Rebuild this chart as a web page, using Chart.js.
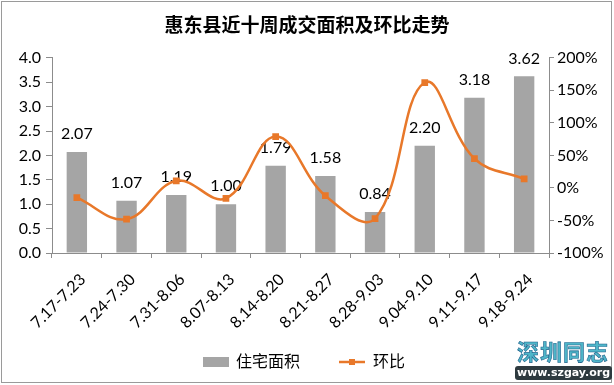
<!DOCTYPE html>
<html>
<head>
<meta charset="utf-8">
<script src="https://cdn.jsdelivr.net/npm/chart.js@4/dist/chart.umd.min.js"></script>
<style>
  html, body { margin: 0; padding: 0; background: #fff; }
  .wrap { position: relative; width: 614px; height: 385px; }
  .mark { position: absolute; left: 515px; top: 338px; width: 96px; text-align: center; }
  .mark .cn { font: bold 22px 'Noto Sans CJK SC', sans-serif; color: #4fb6c9; line-height: 24px;
              -webkit-text-stroke: 0.6px #1d5f8a; letter-spacing: 1px; }
  .mark .en { display: inline-block; font: bold 11px 'DejaVu Sans', sans-serif; color: #fff; background: #2e3a3f;
              line-height: 14px; padding: 0 2px; border-radius: 3px; }
</style>
</head>
<body>
<div class="wrap">
  <canvas class="js-chart" width="614" height="385"></canvas>
  <div class="mark"><div class="cn">深圳同志</div><div class="en">www.szgay.org</div></div>
</div>
<script>
const TITLE = '惠东县近十周成交面积及环比走势';
const weeks = ['7.17-7.23', '7.24-7.30', '7.31-8.06', '8.07-8.13', '8.14-8.20',
               '8.21-8.27', '8.28-9.03', '9.04-9.10', '9.11-9.17', '9.18-9.24'];
const area = [2.07, 1.07, 1.19, 1.00, 1.79, 1.58, 0.84, 2.20, 3.18, 3.62];
const change = [-15, -48, 11, -16, 79, -12, -47, 162, 45, 14];
const leftTicks = [0, 4, 0.5];
const rightTicks = [-100, 200, 50];

const FONT = "Lato, 'Noto Sans CJK SC', sans-serif";
const GRAY = '#a5a5a5';
const ORANGE = '#e8782a';
const AXIS = '#8c8c8c';

const barLabels = {
    id: 'barLabels',
    afterDatasetDraw(chart, args) {
        if (args.index !== 0) return;
        const ctx = chart.ctx;
        ctx.save();
        ctx.font = '16px ' + FONT;
        ctx.fillStyle = '#000';
        ctx.textAlign = 'center';
        ctx.textBaseline = 'bottom';
        args.meta.data.forEach((bar, i) => {
            ctx.fillText(area[i].toFixed(2), bar.x, bar.y - 10);
        });
        ctx.restore();
    }
};

// legend drawn by hand so the spacing matches the excel one
const bottomLegend = {
    id: 'bottomLegend',
    afterDraw(chart) {
        const ctx = chart.ctx;
        const [bars, line] = chart.data.datasets;
        const y = 362;
        let x = chart.width / 2 - 104;
        ctx.save();
        ctx.font = '16px ' + FONT;
        ctx.textBaseline = 'middle';

        ctx.fillStyle = bars.backgroundColor;
        ctx.fillRect(x, y - 5, 26, 10);
        x += 33;
        ctx.fillStyle = '#000';
        ctx.fillText(bars.label, x, y);
        x += ctx.measureText(bars.label).width + 39;

        ctx.strokeStyle = line.borderColor;
        ctx.lineWidth = 2.5;
        ctx.beginPath();
        ctx.moveTo(x, y);
        ctx.lineTo(x + 26, y);
        ctx.stroke();
        ctx.fillStyle = line.borderColor;
        ctx.fillRect(x + 10, y - 3, 6, 6);
        x += 34;
        ctx.fillStyle = '#000';
        ctx.fillText(line.label, x, y);

        // outer frame
        ctx.strokeStyle = '#9a9a9a';
        ctx.lineWidth = 1;
        ctx.strokeRect(1.5, 1.5, 610, 381);
        ctx.restore();
    }
};

new Chart(document.querySelector('.js-chart').getContext('2d'), {
    type: 'bar',
    data: {
        labels: weeks,
        datasets: [{
            label: '住宅面积',
            data: area,
            backgroundColor: GRAY,
            barPercentage: 0.41,
            categoryPercentage: 1,
            yAxisID: 'y',
            order: 2
        },
        {
            type: 'line',
            label: '环比',
            data: change,
            borderColor: ORANGE,
            backgroundColor: ORANGE,
            borderWidth: 2.5,
            tension: 0.4,
            pointStyle: 'rect',
            pointRadius: 3,
            yAxisID: 'y1',
            order: 1
        }]
    },
    options: {
        responsive: false,
        animation: false,
        layout: { padding: { left: 0, right: 0, top: 0, bottom: 42 } },
        plugins: {
            title: {
                display: true,
                text: TITLE,
                color: '#000',
                font: { family: "'Noto Sans CJK SC', sans-serif", size: 19, weight: 'bold' },
                padding: { top: 13, bottom: 22 }
            },
            legend: { display: false },
            tooltip: { enabled: false }
        },
        scales: {
            x: {
                grid: { offset: true, drawOnChartArea: false, color: AXIS, tickLength: 5 },
                border: { color: AXIS },
                ticks: { minRotation: 45, maxRotation: 45, padding: 12, labelOffset: 6,
                         color: '#000', font: { family: FONT, size: 16 } },
                afterFit: s => { s.height = 90; }
            },
            y: {
                position: 'left',
                min: leftTicks[0],
                max: leftTicks[1],
                grid: { drawOnChartArea: false, color: AXIS, tickLength: 6 },
                border: { color: AXIS },
                ticks: { stepSize: leftTicks[2], padding: 5, color: '#000', font: { family: FONT, size: 16 },
                         callback: v => v.toFixed(1) },
                afterFit: s => { s.width = 52; }
            },
            y1: {
                position: 'right',
                min: rightTicks[0],
                max: rightTicks[1],
                grid: { drawOnChartArea: false, color: AXIS, tickLength: 5 },
                border: { color: AXIS },
                ticks: { stepSize: rightTicks[2], color: '#000', font: { family: FONT, size: 16 },
                         callback: v => v + '%' },
                afterFit: s => { s.width = 65; }
            }
        }
    },
    plugins: [barLabels, bottomLegend]
});
</script>
</body>
</html>
